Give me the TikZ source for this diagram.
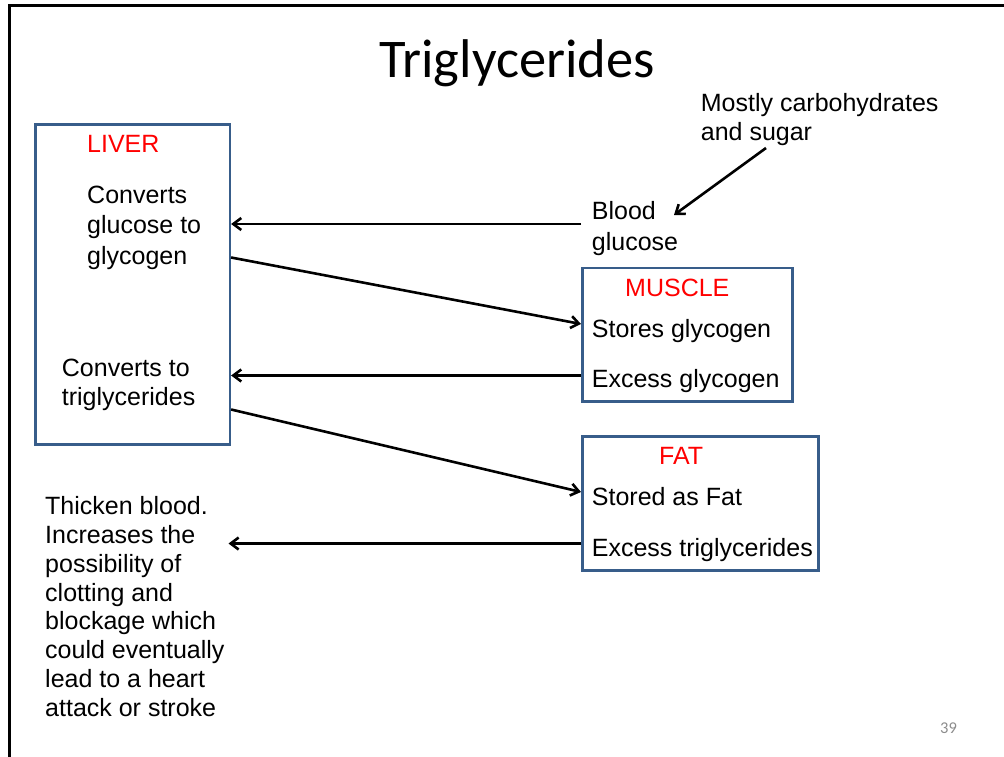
\documentclass[tikz,border=0pt]{standalone}
\usepackage{fontspec}
\setmainfont{Liberation Sans}
\newfontfamily\carlito{Carlito}
\usetikzlibrary{arrows.meta}
\definecolor{boxblue}{RGB}{56,93,138}
\definecolor{pgnum}{RGB}{140,140,140}
\newcommand{\txtblock}[2]{\parbox[t]{320pt}{\raggedright\fontsize{25}{#1}\selectfont #2}}
\begin{document}
\begin{tikzpicture}[x=1pt,y=-1pt,
  box/.style={draw=boxblue,line width=2.6pt,inner sep=0pt,anchor=north west},
  txt/.style={inner sep=0pt,anchor=base west,font=\fontsize{25}{30}\selectfont},
  lbl/.style={txt,text=red},
  conn/.style={line width=2.6pt,-{Straight Barb[length=8pt,width=12pt]}},
]
\useasboundingbox (0,0) rectangle (1004,757);
\draw[line width=2.7pt] (9.5,757) -- (9.5,5.3) -- (1004,5.3);

\node[font=\carlito\fontsize{54.5}{60}\selectfont, anchor=base, inner sep=0pt] (title) at (517,77.5) {Triglycerides};

\node[box,minimum width=194.5pt,minimum height=319.5pt] (liver) at (34,123.5) {};
\node[box,minimum width=210pt,minimum height=133.5pt] (muscle) at (581,266.5) {};
\node[box,minimum width=236pt,minimum height=134pt] (fat) at (581,435) {};

\node[lbl] (liverlbl) at (87,153) {LIVER};
\node[txt] (conv1) at (87,203) {\txtblock{30.5}{Converts\\glucose to\\glycogen}};
\node[txt] (conv2) at (61.7,376) {\txtblock{29.5}{Converts to\\triglycerides}};
\node[txt] (blood) at (591.7,219.5) {\txtblock{30.5}{Blood\\glucose}};
\node[txt] (mostly) at (700.7,111.7) {\txtblock{29.3}{Mostly carbohydrates\\and sugar}};
\node[lbl] (musclelbl) at (625,296) {MUSCLE};
\node[txt] (stores) at (591.7,337.3) {Stores glycogen};
\node[txt] (excessg) at (591.7,387.3) {Excess glycogen};
\node[lbl] (fatlbl) at (659,464) {FAT};
\node[txt] (storedfat) at (591.7,505) {Stored as Fat};
\node[txt] (excesst) at (591.7,556.7) {Excess triglycerides};
\node[txt] (thicken) at (45,514.3) {\txtblock{28.9}{Thicken blood.\\Increases the\\possibility of\\clotting and\\blockage which\\could eventually\\lead to a heart\\attack or stroke}};
\node[anchor=base west, inner sep=0pt, font=\carlito\fontsize{16.5}{20}\selectfont, text=pgnum] (pg) at (940,733.3) {39};

\coordinate (thickenarrow) at (228.5,543.5);
\coordinate (mostlyfoot) at (766,148);
\coordinate (bloodtip) at (674,215);

\draw[conn] (muscle.west |- 0,224) -- (liver.east |- 0,224);
\draw[conn] (liver.east |- 0,257.5) -- (muscle.west |- 0,324);
\draw[conn] (muscle.west |- 0,375.5) -- (liver.east |- 0,375.5);
\draw[conn] (liver.east |- 0,409.5) -- (fat.west |- 0,492);
\draw[conn] (fat.west |- 0,543.5) -- (thickenarrow);
\draw[conn] (mostlyfoot) -- (bloodtip);
\end{tikzpicture}
\end{document}
